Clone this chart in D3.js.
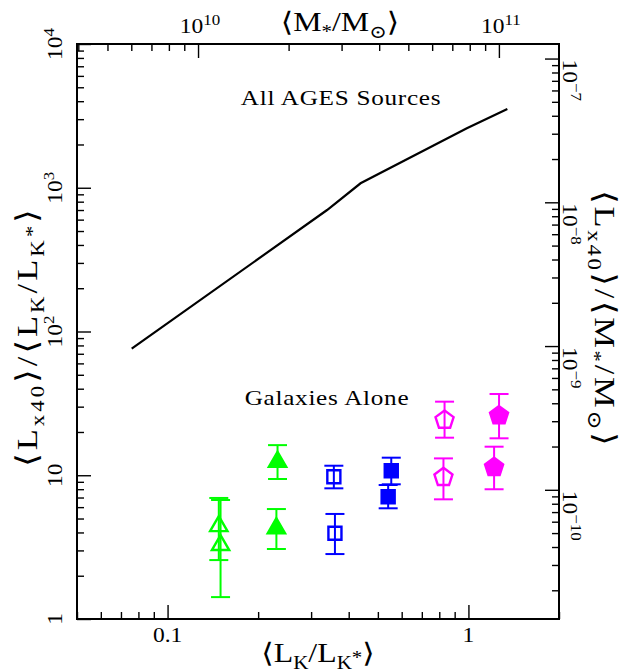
<!DOCTYPE html>
<html>
<head>
<meta charset="utf-8">
<script src="https://cdn.jsdelivr.net/npm/d3@7"></script>
<style>
  body { margin: 0; background: #fff; }
  svg { display: block; }
  text { font-family: "Liberation Serif", "DejaVu Serif", serif; fill: #000; }
</style>
</head>
<body>
<svg id="chart"></svg>
<script>
// "All AGES Sources" curve
const allAgesL = [0.076, 0.339, 0.438, 0.988, 1.347];
const allAgesLx = [75.9, 700, 1074, 2592, 3531];

// galaxies alone, one array per quantity and marker set
const greenOpenL = [0.148, 0.150];
const greenOpenV = [4.43, 3.27];
const greenOpenLo = [2.57, 1.42];
const greenOpenHi = [6.95, 6.73];

const greenFillL = [0.232, 0.230];
const greenFillV = [12.4, 4.28];
const greenFillLo = [9.42, 3.07];
const greenFillHi = [16.2, 5.82];

const blueOpenL = [0.357, 0.360];
const blueOpenV = [9.77, 3.95];
const blueOpenLo = [8.11, 2.83];
const blueOpenHi = [11.65, 5.38];

const blueFillL = [0.554, 0.541];
const blueFillV = [10.76, 7.09];
const blueFillLo = [8.65, 5.89];
const blueFillHi = [13.25, 8.55];

const magOpenL = [0.833, 0.826];
const magOpenV = [24.2, 9.67];
const magOpenLo = [18.25, 6.80];
const magOpenHi = [32.5, 13.1];

const magFillL = [1.264, 1.217];
const magFillV = [26.0, 11.36];
const magFillLo = [18.07, 7.99];
const magFillHi = [36.75, 15.8];

// axis ranges and the L_K* -> M* conversion used for the top / right axes
const xDomain = [0.05, 2];
const yDomain = [1, 1e4];
const massPerLstar = 7.92e10;

const series = [
  { L: greenOpenL, v: greenOpenV, lo: greenOpenLo, hi: greenOpenHi, color: '#00ff00', shape: 'triangle', filled: false },
  { L: greenFillL, v: greenFillV, lo: greenFillLo, hi: greenFillHi, color: '#00ff00', shape: 'triangle', filled: true },
  { L: blueOpenL, v: blueOpenV, lo: blueOpenLo, hi: blueOpenHi, color: '#0000ff', shape: 'square', filled: false },
  { L: blueFillL, v: blueFillV, lo: blueFillLo, hi: blueFillHi, color: '#0000ff', shape: 'square', filled: true },
  { L: magOpenL, v: magOpenV, lo: magOpenLo, hi: magOpenHi, color: '#ff00ff', shape: 'pentagon', filled: false },
  { L: magFillL, v: magFillV, lo: magFillLo, hi: magFillHi, color: '#ff00ff', shape: 'pentagon', filled: true }
];

const W = 625, H = 672;
const margin = { top: 44, right: 66, bottom: 53, left: 77 };
const x0 = margin.left, x1 = W - margin.right;
const y0 = H - margin.bottom, y1 = margin.top;

const svg = d3.select('#chart').attr('width', W).attr('height', H);

const x = d3.scaleLog().domain(xDomain).range([x0, x1]);
const y = d3.scaleLog().domain(yDomain).range([y0, y1]);
const xTop = d3.scaleLog().domain(xDomain.map(d => d * massPerLstar)).range([x0, x1]);
const yRight = d3.scaleLog().domain(yDomain.map(d => d / massPerLstar)).range([y0, y1]);

const isMajor = t => Math.abs(Math.log10(t) - Math.round(Math.log10(t))) < 1e-6;

function tickAxis(axisFn, scale, transform) {
  const all = scale.ticks();
  const major = all.filter(isMajor);
  const minor = all.filter(t => !isMajor(t));
  [[minor, 7], [major, 14]].forEach(([vals, len]) => {
    const g = svg.append('g')
      .attr('transform', transform)
      .call(axisFn(scale).tickValues(vals).tickSize(-len).tickSizeOuter(0).tickFormat(''));
    g.select('.domain').remove();
    g.selectAll('line').attr('stroke', '#000').attr('stroke-width', 1.4);
  });
  return major;
}

const leftMajor = tickAxis(d3.axisLeft, y, `translate(${x0},0)`);
const bottomMajor = tickAxis(d3.axisBottom, x, `translate(0,${y0})`);
const topMajor = tickAxis(d3.axisTop, xTop, `translate(0,${y1})`);
const rightMajor = tickAxis(d3.axisRight, yRight, `translate(${x1},0)`);

// frame
svg.append('rect')
  .attr('x', x0).attr('y', y1)
  .attr('width', x1 - x0).attr('height', y0 - y1)
  .attr('fill', 'none').attr('stroke', '#000').attr('stroke-width', 2);

// power-of-ten label: "10" with a raised exponent (plain for 1, 10, 0.1)
function powLabel(textSel, t) {
  const e = Math.round(Math.log10(t));
  if (e === 0) { textSel.text('1'); return; }
  if (e === 1) { textSel.text('10'); return; }
  if (e === -1) { textSel.text('0.1'); return; }
  textSel.append('tspan').text('10');
  textSel.append('tspan').attr('dy', -8).attr('font-size', '0.72em').text(String(e).replace('-', '\u2212'));
}

const fs = 21;
const wide = 'scale(1.12,1)';   // the original font is a wide plotter font

// left tick labels
leftMajor.forEach(t => {
  svg.append('text')
    .attr('transform', `translate(62,${y(t)}) rotate(-90) ${wide}`)
    .attr('text-anchor', 'middle')
    .attr('font-size', fs)
    .call(powLabel, t);
});

// bottom tick labels
bottomMajor.forEach(t => {
  svg.append('text')
    .attr('transform', `translate(${x(t)},642) ${wide}`)
    .attr('text-anchor', 'middle')
    .attr('font-size', fs)
    .call(powLabel, t);
});

// top tick labels
topMajor.forEach(t => {
  svg.append('text')
    .attr('transform', `translate(${xTop(t) + 2},33) ${wide}`)
    .attr('text-anchor', 'middle')
    .attr('font-size', fs)
    .call(powLabel, t);
});

// right tick labels (read downwards, start at the tick)
rightMajor.forEach(t => {
  svg.append('text')
    .attr('transform', `translate(563,${yRight(t) + 1}) rotate(90) ${wide}`)
    .attr('text-anchor', 'start')
    .attr('font-size', fs)
    .call(powLabel, t);
});

// axis titles built from pieces: [text, kind] where kind is sub/sup
function richText(sel, parts, size, len) {
  let last = 0;
  parts.forEach(([s, kind]) => {
    const off = kind === 'sub' ? 7 : kind === 'sup' ? -8 : kind === 'subsup' ? 2 : 0;
    sel.append('tspan')
      .attr('dy', off - last)
      .attr('font-size', kind ? size * 0.66 : size)
      .text(s);
    last = off;
  });
  if (len) sel.attr('textLength', len).attr('lengthAdjust', 'spacing');
}

const tfs = 27;
const tWide = 'scale(1.18,1)';
const LA = '\u27e8', RA = '\u27e9';

svg.append('text')
  .attr('transform', `translate(37,338) rotate(-90) scale(1.15,1)`)
  .attr('text-anchor', 'middle')
  .call(richText, [[LA + 'L'], ['x40', 'sub'], [RA + '/' + LA + 'L'], ['K', 'sub'], ['/L'], ['K', 'sub'], ['*', 'subsup'], [RA]], 30, 224);

svg.append('text')
  .attr('transform', `translate(595,318) rotate(90) scale(1.15,1)`)
  .attr('text-anchor', 'middle')
  .call(richText, [[LA + 'L'], ['x40', 'sub'], [RA + '/' + LA + 'M'], ['*', 'sub'], ['/M'], ['\u2299', 'sub'], [RA]], 30, 222);

svg.append('text')
  .attr('transform', `translate(340,31) ${tWide}`)
  .attr('text-anchor', 'middle')
  .call(richText, [[LA + 'M'], ['*', 'sub'], ['/M'], ['\u2299', 'sub'], [RA]], tfs);

svg.append('text')
  .attr('transform', `translate(318,662) ${tWide}`)
  .attr('text-anchor', 'middle')
  .call(richText, [[LA + 'L'], ['K', 'sub'], ['/L'], ['K', 'sub'], ['*', 'subsup'], [RA]], tfs);

// annotations
svg.append('text')
  .attr('transform', `translate(341,105) scale(1.2,1)`)
  .attr('text-anchor', 'middle')
  .attr('font-size', 21).attr('letter-spacing', 0.6)
  .text('All AGES Sources');

svg.append('text')
  .attr('transform', `translate(327,405) scale(1.2,1)`)
  .attr('text-anchor', 'middle')
  .attr('font-size', 21).attr('letter-spacing', 0.6)
  .text('Galaxies Alone');

// all AGES sources line
const line = d3.line()
  .x(d => x(d[0]))
  .y(d => y(d[1]));

svg.append('path')
  .datum(d3.zip(allAgesL, allAgesLx))
  .attr('fill', 'none')
  .attr('stroke', '#000')
  .attr('stroke-width', 2.2)
  .attr('d', line);

// marker shapes
const pentagon = r => {
  const pts = d3.range(5).map(i => {
    const a = -Math.PI / 2 + i * 2 * Math.PI / 5;
    return [r * Math.cos(a), r * Math.sin(a)];
  });
  return 'M' + pts.map(p => p.join(',')).join('L') + 'Z';
};
const shapePath = {
  triangle: d3.symbol().type(d3.symbolTriangle).size(130)(),
  square: d3.symbol().type(d3.symbolSquare).size(170)(),
  pentagon: pentagon(9.5)
};

const capHalf = 9.5;

series.forEach(s => {
  const pts = d3.zip(s.L, s.v, s.lo, s.hi);
  const g = svg.append('g').attr('stroke', s.color).attr('stroke-width', 2);

  g.selectAll('line.bar')
    .data(pts).enter().append('line')
    .attr('x1', d => x(d[0])).attr('x2', d => x(d[0]))
    .attr('y1', d => y(d[2])).attr('y2', d => y(d[3]));

  ['lo', 'hi'].forEach((k, i) => {
    g.selectAll('line.cap' + k)
      .data(pts).enter().append('line')
      .attr('x1', d => x(d[0]) - capHalf).attr('x2', d => x(d[0]) + capHalf)
      .attr('y1', d => y(d[2 + i])).attr('y2', d => y(d[2 + i]));
  });

  g.selectAll('path')
    .data(pts).enter().append('path')
    .attr('transform', d => `translate(${x(d[0])},${y(d[1])})`)
    .attr('d', shapePath[s.shape])
    .attr('fill', s.filled ? s.color : 'none')
    .attr('stroke-width', 2.4);
});
</script>
</body>
</html>
